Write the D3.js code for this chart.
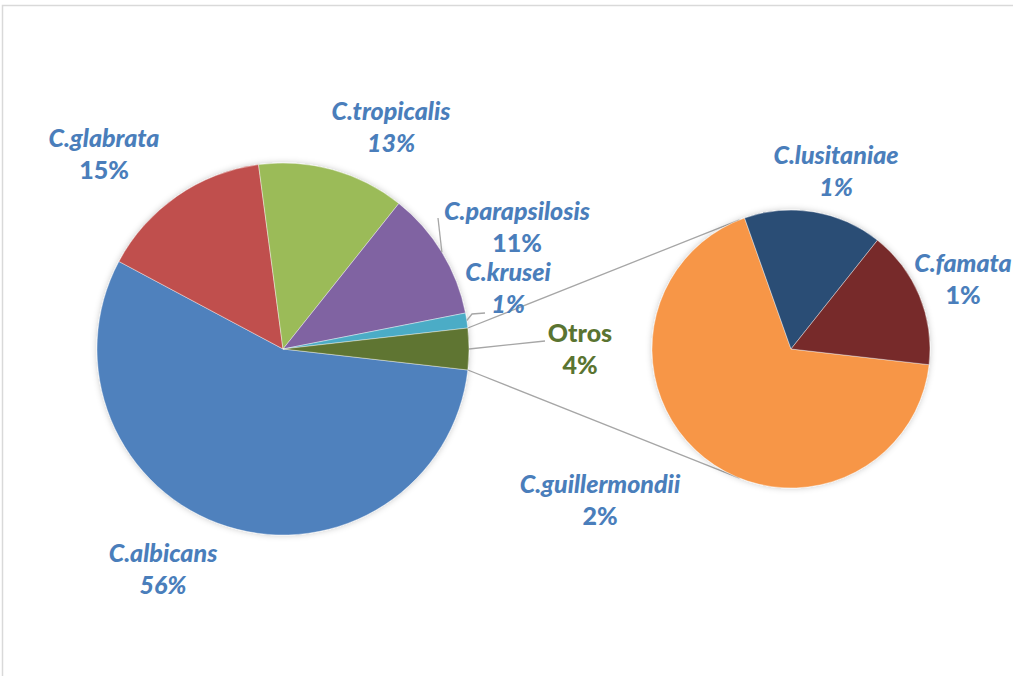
<!DOCTYPE html>
<html>
<head>
<meta charset="utf-8">
<script src="https://cdn.jsdelivr.net/npm/d3@7"></script>
<style>
  html, body { margin: 0; padding: 0; background: #fff; }
  svg { display: block; }
  text { font-family: Lato, "Open Sans", sans-serif; font-weight: 900; }
</style>
</head>
<body>
<svg id="chart" width="1013" height="676"></svg>
<script>
// Species share of isolates (percent of total)
const mainNames  = ["C.albicans", "C.glabrata", "C.tropicalis", "C.parapsilosis", "C.krusei"];
const mainValues = [56.0, 15.1, 12.8, 11.2, 1.3];
// Species grouped into "Otros", broken out in the secondary pie
const otherNames  = ["C.guillermondii", "C.lusitaniae", "C.famata"];
const otherValues = [2.44, 0.58, 0.58];
const otherLabel = "Otros";

// Colours
const mainColors  = ["#4F81BD", "#C0504D", "#9BBB59", "#8064A2", "#4BACC6", "#5F7530"];
const otherColors = ["#F79646", "#2C4D75", "#772C2A"];
const labelBlue = "#4A7EBB";
const labelGreen = "#5A7431";

// Label anchors (centre of first line) and percent styling
const labelPos = {
  "C.albicans": [163, 553], "C.glabrata": [104, 138], "C.tropicalis": [391, 111],
  "C.parapsilosis": [517, 211], "C.krusei": [508, 272], "Otros": [580, 333],
  "C.guillermondii": [600, 484], "C.lusitaniae": [836, 155], "C.famata": [963, 263]
};
const italicPct = new Set(["C.albicans", "C.tropicalis", "C.krusei", "C.lusitaniae"]);

const svg = d3.select("#chart");
const W = 1013, H = 676;

// chart frame
svg.append("rect")
  .attr("x", 2.5).attr("y", 5.5).attr("width", W + 10).attr("height", H + 10)
  .attr("fill", "#fff").attr("stroke", "#D9D9D9").attr("stroke-width", 1.5);

const defs = svg.append("defs");
const f = defs.append("filter").attr("id", "shadow")
  .attr("x", "-10%").attr("y", "-10%").attr("width", "120%").attr("height", "120%");
f.append("feDropShadow").attr("dx", 0).attr("dy", 0).attr("stdDeviation", 3)
  .attr("flood-color", "#000").attr("flood-opacity", 0.22);

const total = d3.sum(mainValues) + d3.sum(otherValues);
const fmtPct = d3.format(".0%");

const mainData = mainNames.map((n, i) => ({ name: n, value: mainValues[i], color: mainColors[i] }));
mainData.push({ name: otherLabel, value: d3.sum(otherValues), color: mainColors[5] });
const subData = otherNames.map((n, i) => ({ name: n, value: otherValues[i], color: otherColors[i] }));

const cx1 = 283, cy1 = 349, r1 = 186;
const cx2 = 791, cy2 = 349, r2 = 139;

// main pie: the "Otros" slice is centred on 3 o'clock
const otherSpan = 2 * Math.PI * d3.sum(otherValues) / total;
const start1 = Math.PI / 2 + otherSpan / 2;
const pie1 = d3.pie().sort(null).value(d => d.value)
  .startAngle(start1).endAngle(start1 + 2 * Math.PI);
const arcs1 = pie1(mainData);
const pie2 = d3.pie().sort(null).value(d => d.value)
  .startAngle(start1).endAngle(start1 + 2 * Math.PI);
const arcs2 = pie2(subData);

const arc1 = d3.arc().innerRadius(0).outerRadius(r1);
const arc2 = d3.arc().innerRadius(0).outerRadius(r2);

const polar = (cx, cy, r, a) => [cx + r * Math.sin(a), cy - r * Math.cos(a)];

// connector lines: tangents from the ends of the "Otros" slice to the secondary pie
const otherArc = arcs1[arcs1.length - 1];
const pTop = polar(cx1, cy1, r1, otherArc.startAngle);
const pBot = polar(cx1, cy1, r1, otherArc.endAngle);
function tangent(p, upper) {
  const dx = p[0] - cx2, dy = p[1] - cy2;
  const d = Math.hypot(dx, dy);
  const dir = Math.atan2(dx, -dy);
  const off = Math.acos(r2 / d);
  return polar(cx2, cy2, r2, upper ? dir + off : dir - off);
}
const tTop = tangent(pTop, true), tBot = tangent(pBot, false);
const conn = svg.append("g").attr("stroke", "#A6A6A6").attr("stroke-width", 1.3).attr("fill", "none");
conn.append("line").attr("x1", pTop[0]).attr("y1", pTop[1]).attr("x2", tTop[0]).attr("y2", tTop[1]);
conn.append("line").attr("x1", pBot[0]).attr("y1", pBot[1]).attr("x2", tBot[0]).attr("y2", tBot[1]);

// pies
const g1 = svg.append("g").attr("transform", `translate(${cx1},${cy1})`).attr("filter", "url(#shadow)");
g1.selectAll("path").data(arcs1).join("path")
  .attr("d", arc1).attr("fill", d => d.data.color)
  .attr("stroke", "#fff").attr("stroke-width", 0.4);

const g2 = svg.append("g").attr("transform", `translate(${cx2},${cy2})`).attr("filter", "url(#shadow)");
g2.selectAll("path").data(arcs2).join("path")
  .attr("d", arc2).attr("fill", d => d.data.color)
  .attr("stroke", "#fff").attr("stroke-width", 0.4);

// leader lines for labels that sit away from their slice
const leaders = svg.append("g").attr("stroke", "#A6A6A6").attr("stroke-width", 1.3).attr("fill", "none");
const midOf = a => (a.startAngle + a.endAngle) / 2;
const arcByName = n => arcs1.find(a => a.data.name === n);
function leader(name, pts) {
  const a = arcByName(name);
  const e = polar(cx1, cy1, r1, midOf(a));
  leaders.append("polyline").attr("points", [e, ...pts].map(p => p.join(",")).join(" "));
}
leader("C.parapsilosis", [[438, 218]]);
leader("C.krusei", [[472, 314], [485, 313]]);
leader(otherLabel, [[545, 341]]);

// data labels
const labels = svg.append("g").attr("font-size", 25);
function drawLabel(d) {
  const [x, y] = labelPos[d.name];
  const isOther = d.name === otherLabel;
  const t = labels.append("text").attr("text-anchor", "middle")
    .attr("fill", isOther ? labelGreen : labelBlue);
  t.append("tspan").attr("x", x).attr("y", y).attr("dy", "0.35em")
    .attr("font-style", isOther ? "normal" : "italic").text(d.name);
  t.append("tspan").attr("x", x).attr("y", y + 32).attr("dy", "0.35em")
    .attr("font-style", italicPct.has(d.name) ? "italic" : "normal")
    .text(fmtPct(d.value / total));
}
mainData.forEach(drawLabel);
subData.forEach(drawLabel);
</script>
</body>
</html>
